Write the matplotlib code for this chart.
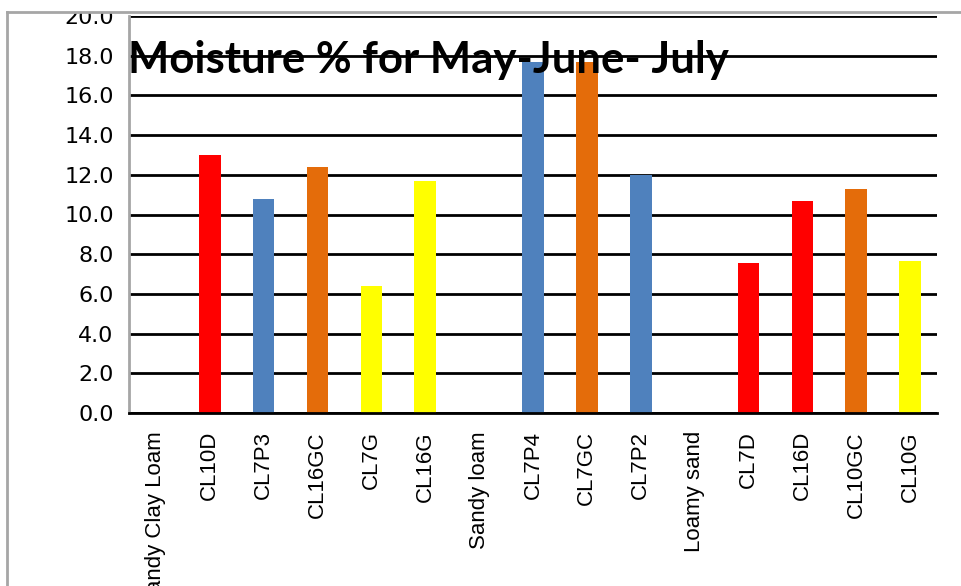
import matplotlib
matplotlib.use("Agg")
from matplotlib import pyplot as plt
from matplotlib.lines import Line2D
from matplotlib.patches import Rectangle

categories = ["Sandy Clay Loam", "CL10D", "CL7P3", "CL16GC", "CL7G", "CL16G",
              "Sandy loam", "CL7P4", "CL7GC", "CL7P2", "Loamy sand",
              "CL7D", "CL16D", "CL10GC", "CL10G"]
moisture = [0, 13.0, 10.8, 12.4, 6.4, 11.7, 0, 17.7, 17.7, 12.0, 0, 7.55, 10.7, 11.3, 7.65]
colors = ["none", "#FF0000", "#4F81BD", "#E46C0A", "#FFFF00", "#FFFF00",
          "none", "#4F81BD", "#E46C0A", "#4F81BD", "none",
          "#FF0000", "#FF0000", "#E46C0A", "#FFFF00"]
yticks = [0, 2, 4, 6, 8, 10, 12, 14, 16, 18, 20]

plt.rcParams['font.family'] = ['DejaVu Sans']

fig = plt.figure(figsize=(9.62, 5.86), dpi=100)
ax = fig.add_axes([129/962, 1 - 413/586, (937-129)/962, (413-16)/586])

x = list(range(len(categories)))
ax.bar(x, moisture, width=0.40, color=colors, zorder=3)

ax.set_xlim(-0.5, len(categories) - 0.5)
ax.set_ylim(0, 20)
ax.set_yticks(yticks)
ax.set_yticklabels(["%.1f" % v for v in yticks], fontsize=16)
ax.set_xticks(x)
ax.set_xticklabels(categories, rotation=90, va='top', fontsize=16,
                   family=['Liberation Sans', 'DejaVu Sans'])
ax.tick_params(axis='y', length=0, pad=11)
ax.tick_params(axis='x', length=0, pad=13)

ax.grid(axis='y', color='black', linewidth=2, zorder=1)
ax.set_axisbelow(True)
for s in ['top', 'right']:
    ax.spines[s].set_visible(False)
ax.spines['left'].set_color('#A6A6A6')
ax.spines['left'].set_linewidth(2)
ax.spines['bottom'].set_color('black')
ax.spines['bottom'].set_linewidth(2)
ax.spines['bottom'].set_zorder(4)

fig.text(428/962, 1 - 73/586, "Moisture % for May-June- July",
         ha='center', va='baseline', fontsize=31.5, fontweight='bold',
         family=['Lato', 'DejaVu Sans'], zorder=5)

# outer chart border (cropped); area above it is blank
fig.add_artist(Rectangle((0, 1 - 12/586), 1, 12/586, facecolor='white',
                         edgecolor='none', zorder=10))
fig.add_artist(Line2D([7/962, 1], [1 - 12/586, 1 - 12/586], color='#A6A6A6',
                      linewidth=2, zorder=11))
fig.add_artist(Line2D([7/962, 7/962], [0, 1 - 12/586], color='#A6A6A6',
                      linewidth=2, zorder=11))

fig.savefig("out.png", dpi=100)
